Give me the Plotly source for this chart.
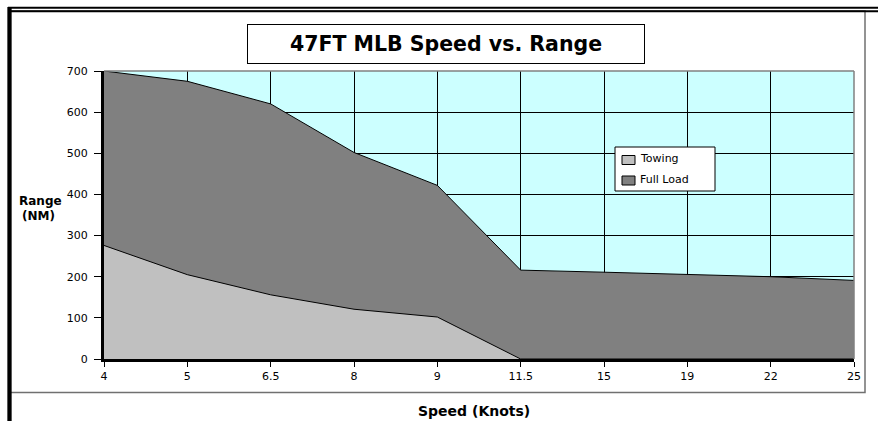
import plotly.graph_objects as go

# data
speeds = ["4", "5", "6.5", "8", "9", "11.5", "15", "19", "22", "25"]
full_load = [700, 675, 620, 502, 422, 216, 211, 205, 200, 191]
towing = [276, 205, 156, 121, 102, 0, 0, 0, 0, 0]
y_ticks = [0, 100, 200, 300, 400, 500, 600, 700]

W, H = 878, 421
L, R, T, B = 104, 24, 71, 62
pw, ph = W - L - R, H - T - B
FONT = "DejaVu Sans, Arial, sans-serif"


def px(x):
    # pixel x -> paper fraction
    return (x - L) / pw


def py(y):
    # pixel y (from top) -> paper fraction
    return (H - B - y) / ph


fig = go.Figure()
fig.add_trace(go.Scatter(x=speeds, y=full_load, name="Full Load", mode="lines",
                         fill="tozeroy", fillcolor="#808080",
                         line=dict(color="black", width=1)))
fig.add_trace(go.Scatter(x=speeds, y=towing, name="Towing", mode="lines",
                         fill="tozeroy", fillcolor="#C0C0C0",
                         line=dict(color="black", width=1)))

fig.update_layout(
    width=W, height=H,
    margin=dict(l=L, r=R, t=T, b=B, pad=0),
    paper_bgcolor="white",
    plot_bgcolor="#CCFFFF",
    showlegend=False,
    font=dict(family=FONT, color="black", size=11),
)

fig.update_xaxes(type="category", range=[0, len(speeds) - 1],
                 showline=True, linecolor="black", linewidth=3,
                 ticks="outside", ticklen=5, tickcolor="black", tickwidth=1,
                 showgrid=True, gridcolor="black", gridwidth=1,
                 zeroline=False, tickfont=dict(size=11))
fig.update_yaxes(range=[0, 700], tickvals=y_ticks,
                 showline=True, linecolor="black", linewidth=3,
                 ticks="outside", ticklen=7, tickcolor="black", tickwidth=1,
                 showgrid=True, gridcolor="black", gridwidth=1,
                 zeroline=False, tickfont=dict(size=11), ticklabelstandoff=4)

shapes = [
    # plot area top and right border
    dict(type="line", xref="paper", yref="paper", x0=0, x1=1, y0=1, y1=1,
         line=dict(color="#808080", width=1.5)),
    dict(type="line", xref="paper", yref="paper", x0=1, x1=1, y0=0, y1=1,
         line=dict(color="#808080", width=1.5)),
    # chart area box
    dict(type="rect", xref="paper", yref="paper", x0=px(10), x1=px(865),
         y0=py(392.5), y1=py(11), line=dict(color="#707070", width=1.5)),
    # outer frame: double top line and thick left line
    dict(type="line", xref="paper", yref="paper", x0=px(8), x1=px(878),
         y0=py(7.8), y1=py(7.8), line=dict(color="black", width=2)),
    dict(type="line", xref="paper", yref="paper", x0=px(8), x1=px(878),
         y0=py(11.2), y1=py(11.2), line=dict(color="black", width=2)),
    dict(type="line", xref="paper", yref="paper", x0=px(9.5), x1=px(9.5),
         y0=py(7), y1=py(421), line=dict(color="black", width=4.3)),
    # legend box and swatches
    dict(type="rect", xref="paper", yref="paper", x0=px(615), x1=px(715),
         y0=py(191), y1=py(147), fillcolor="white", line=dict(color="black", width=1)),
    dict(type="rect", xref="paper", yref="paper", x0=px(622), x1=px(635),
         y0=py(164.5), y1=py(155.5), fillcolor="#C0C0C0", line=dict(color="black", width=1)),
    dict(type="rect", xref="paper", yref="paper", x0=px(622), x1=px(635),
         y0=py(185), y1=py(176), fillcolor="#808080", line=dict(color="black", width=1)),
]
fig.update_layout(shapes=shapes)

annotations = [
    dict(text="<b>47FT MLB Speed vs. Range</b>", x=px(446), y=py(44),
         width=396, height=38, bordercolor="black", borderwidth=1, borderpad=0,
         bgcolor="white", font=dict(size=20.5)),
    dict(text="<b>Range</b>", x=px(40.5), y=py(201), font=dict(size=12)),
    dict(text="<b>(NM)</b>", x=px(38), y=py(216), font=dict(size=12)),
    dict(text="<b>Speed (Knots)</b>", x=px(473.5), y=py(411), font=dict(size=14)),
    dict(text="Towing", x=px(638), y=py(158.5), xanchor="left", font=dict(size=11)),
    dict(text="Full Load", x=px(638), y=py(179.5), xanchor="left", font=dict(size=11)),
]
for a in annotations:
    a.setdefault("xanchor", "center")
    fig.add_annotation(xref="paper", yref="paper", yanchor="middle",
                       showarrow=False, **a)

# the page body has a default 8px margin; drop it so the figure starts at 0,0
fig.write_html("out.html", config={"displayModeBar": False},
               post_script="document.body.style.margin='0';")
